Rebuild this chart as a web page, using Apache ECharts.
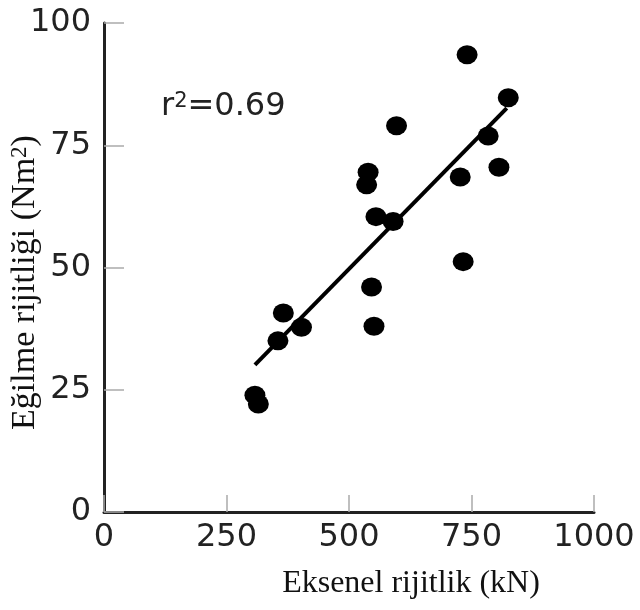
<!DOCTYPE html>
<html>
<head>
<meta charset="utf-8">
<script src="https://cdn.jsdelivr.net/npm/echarts@6/dist/echarts.min.js"></script>
<style>html,body{margin:0;padding:0;background:#fff}#c{width:640px;height:610px}</style>
</head>
<body>
<div id="c"></div>
<script>
// Data
const axialStiffness = [741, 825, 597, 784, 806, 727, 539, 536, 555, 590, 733, 546, 551, 366, 403, 355, 308, 315];
const bendingStiffness = [93.5, 84.7, 79, 76.9, 70.5, 68.5, 69.5, 66.9, 60.4, 59.4, 51.2, 46, 38, 40.7, 37.8, 35, 23.9, 22.1];
const fitX = [308, 822];
const fitY = [30.1, 82.6];
const xTicks = [0, 250, 500, 750, 1000];
const yTicks = [0, 25, 50, 75, 100];
const xTitle = 'Eksenel rijitlik (kN)';
const yTitle = 'Eğilme rijitliği (Nm{sup|2})';
const r2Text = 'r{sup|2}=0.69';

const points = axialStiffness.map((x, i) => [x, bendingStiffness[i]]);
const fitLine = fitX.map((x, i) => [x, fitY[i]]);

const chart = echarts.init(document.getElementById('c'));
const sansFont = 'DejaVu Sans';
const serifFont = 'Liberation Serif';
chart.setOption({
  animation: false,
  backgroundColor: '#fff',
  grid: {left: 104, right: 46, top: 23, bottom: 98, containLabel: false, outerBoundsMode: 'none'},
  xAxis: {
    type: 'value', min: xTicks[0], max: xTicks[xTicks.length - 1], interval: 250,
    axisLine: {show: true, lineStyle: {color: '#222', width: 3}},
    axisTick: {show: true, inside: true, length: 17, lineStyle: {color: '#aaa', width: 1.5}},
    splitLine: {show: false},
    axisLabel: {margin: 10, color: '#222', fontFamily: sansFont, fontSize: 32, formatter: v => String(v)},
    name: xTitle,
    nameLocation: 'middle',
    nameMoveOverlap: false,
    nameGap: 56,
    nameTextStyle: {color: '#111', fontFamily: serifFont, fontSize: 32, padding: [0, 0, 0, 124]}
  },
  yAxis: {
    type: 'value', min: yTicks[0], max: yTicks[yTicks.length - 1], interval: 25,
    axisLine: {show: true, lineStyle: {color: '#222', width: 3}},
    axisTick: {show: true, inside: true, length: 20, lineStyle: {color: '#aaa', width: 1.5}},
    splitLine: {show: false},
    axisLabel: {margin: 13, color: '#222', fontFamily: sansFont, fontSize: 32, padding: [0, 0, 6, 0], formatter: v => String(v)},
    name: yTitle,
    nameLocation: 'middle',
    nameMoveOverlap: false,
    nameGap: 62,
    nameTextStyle: {
      color: '#111', fontFamily: serifFont, fontSize: 34, padding: [0, 30, 0, 0],
      rich: {sup: {fontFamily: serifFont, fontSize: 23, verticalAlign: 'top', color: '#111'}}
    }
  },
  graphic: [{
    type: 'text', left: 161, top: 91,
    style: {
      text: r2Text, fill: '#222', font: '32px "DejaVu Sans"',
      rich: {sup: {fontFamily: sansFont, fontSize: 21, fill: '#222', verticalAlign: 'top'}}
    }
  }],
  series: [
    {
      type: 'line', data: fitLine, symbol: 'none',
      lineStyle: {color: '#000', width: 4}, z: 2
    },
    {
      type: 'scatter', data: points, symbol: 'circle', symbolSize: [21, 19],
      itemStyle: {color: '#000', opacity: 1}, z: 3
    }
  ]
});
</script>
</body>
</html>
